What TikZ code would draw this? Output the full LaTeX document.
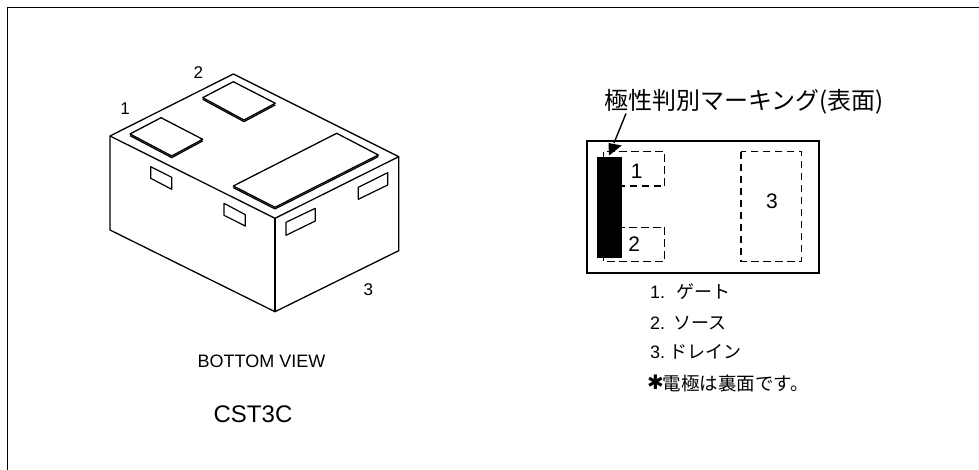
\documentclass[tikz,border=0pt]{standalone}
\usepackage{fontspec}
\setmainfont{Liberation Sans}
\newfontfamily\jp{Noto Sans CJK JP}
\newfontfamily\sym{DejaVu Sans}
\begin{document}
\begin{tikzpicture}[x=1pt,y=-1pt,
  body/.style={draw=black,line width=1.3pt,line join=round},
  lead/.style={draw=black,line width=1.2pt,line join=round},
  dashbox/.style={draw=black,line width=1.5pt,dash pattern=on 7.5pt off 4.5pt},
  label/.style={inner sep=0pt,font=\fontsize{17}{18}\selectfont},
  pin/.style={inner sep=0pt,font=\fontsize{21}{22}\selectfont},
  legend/.style={inner sep=0pt,anchor=base west,font=\fontsize{18}{20}\selectfont}]
\useasboundingbox (0,0) rectangle (979,470);
\coordinate (fa) at (7.5,470);
\coordinate (fb) at (7.5,7.5);
\coordinate (fc) at (979,7.5);
\draw[line width=1.8pt] (fa) -- (fb) -- (fc);
% package
\draw[body] (110,136) -- (233.3,74) -- (398.7,156.7) -- (275,218.3) -- cycle;
\draw[body] (110,136) -- (110,230) -- (275,311.7) -- (398.7,250.7) -- (398.7,156.7);
\draw[body] (275,218.3) -- (275,311.7);
\draw[body] (130,134) -- (161,117.7) -- (202.7,139.3) -- (171.7,156) -- cycle;
\draw[body] (130,135.6) -- (171.7,157.6) -- (202.7,140.9);
\draw[body] (202.7,97.7) -- (233.3,81.7) -- (275.3,103.3) -- (244,120) -- cycle;
\draw[body] (202.7,99.3) -- (244,121.6) -- (275.3,104.9);
\draw[body] (233.3,186) -- (336.7,133.3) -- (378.3,155) -- (275,207.3) -- cycle;
\draw[body] (233.3,187.6) -- (275,208.9) -- (378.3,156.6);
\draw[lead] (150.7,166.7) -- (171.7,177.3) -- (171.7,189.3) -- (150.7,178.3) -- cycle;
\draw[lead] (224,203.3) -- (245.3,214.7) -- (245.3,226) -- (224,215.3) -- cycle;
\draw[lead] (286,222.3) -- (315.3,208.3) -- (315.3,221) -- (286,235.3) -- cycle;
\draw[lead] (358.3,187.3) -- (387.7,172.7) -- (387.7,185) -- (358.3,199.3) -- cycle;
\node[label] (n1) at (125,109) {1};
\node[label] (n2) at (198.3,72.7) {2};
\node[label] (n3) at (368.3,290) {3};
\node[inner sep=0pt,font=\fontsize{18}{20}\selectfont] (bv) at (261.5,361.5) {BOTTOM VIEW};
\node[inner sep=0pt,font=\fontsize{24}{26}\selectfont] (cst) at (253,414) {CST3C};
% top view
\node[inner sep=0pt,anchor=base west,font=\jp\fontsize{24}{26}\selectfont] (title) at (604,110) {極性判別マーキング(表面)};
\draw[line width=2.3pt] (586.7,140.7) rectangle (818.7,272.7);
\draw[dashbox] (664.3,186) -- (664.3,151.7) -- (603.3,151.7) -- (603.3,186) -- (664.3,186);
\draw[dashbox] (664.5,227.3) -- (664.5,261.7) -- (603.3,261.7) -- (603.3,227.3) -- (664.5,227.3);
\draw[dashbox] (741,151.7) rectangle (801.7,261.7);
\fill[black] (597.3,156.7) rectangle (621.7,257.7);
\coordinate (tip) at (609,155.5);
\draw[line width=1.4pt] (626,113.5) -- (614,143);
\fill[black] (tip) -- (608.5,143) -- (621.7,145.5) -- cycle;
\node[pin] (p1) at (636.7,171) {1};
\node[pin] (p2) at (634.3,244.3) {2};
\node[pin] (p3) at (772,201.7) {3};
% legend
\node[legend] (l1) at (650,298.3) {1.\hspace{11pt}{\jp ゲート}};
\node[legend] (l2) at (650,329.3) {2.\hspace{8pt}{\jp ソース}};
\node[legend] (l3) at (650,358.3) {3.\hspace{4pt}{\jp ドレイン}};
\node[legend] (l4) at (647,390.5) {{\sym\fontsize{20}{20}\selectfont\raisebox{1pt}{✱}}\hspace{-1pt}{\jp\fontsize{18.5}{20}\selectfont 電極は裏面です。}};
\end{tikzpicture}
\end{document}
